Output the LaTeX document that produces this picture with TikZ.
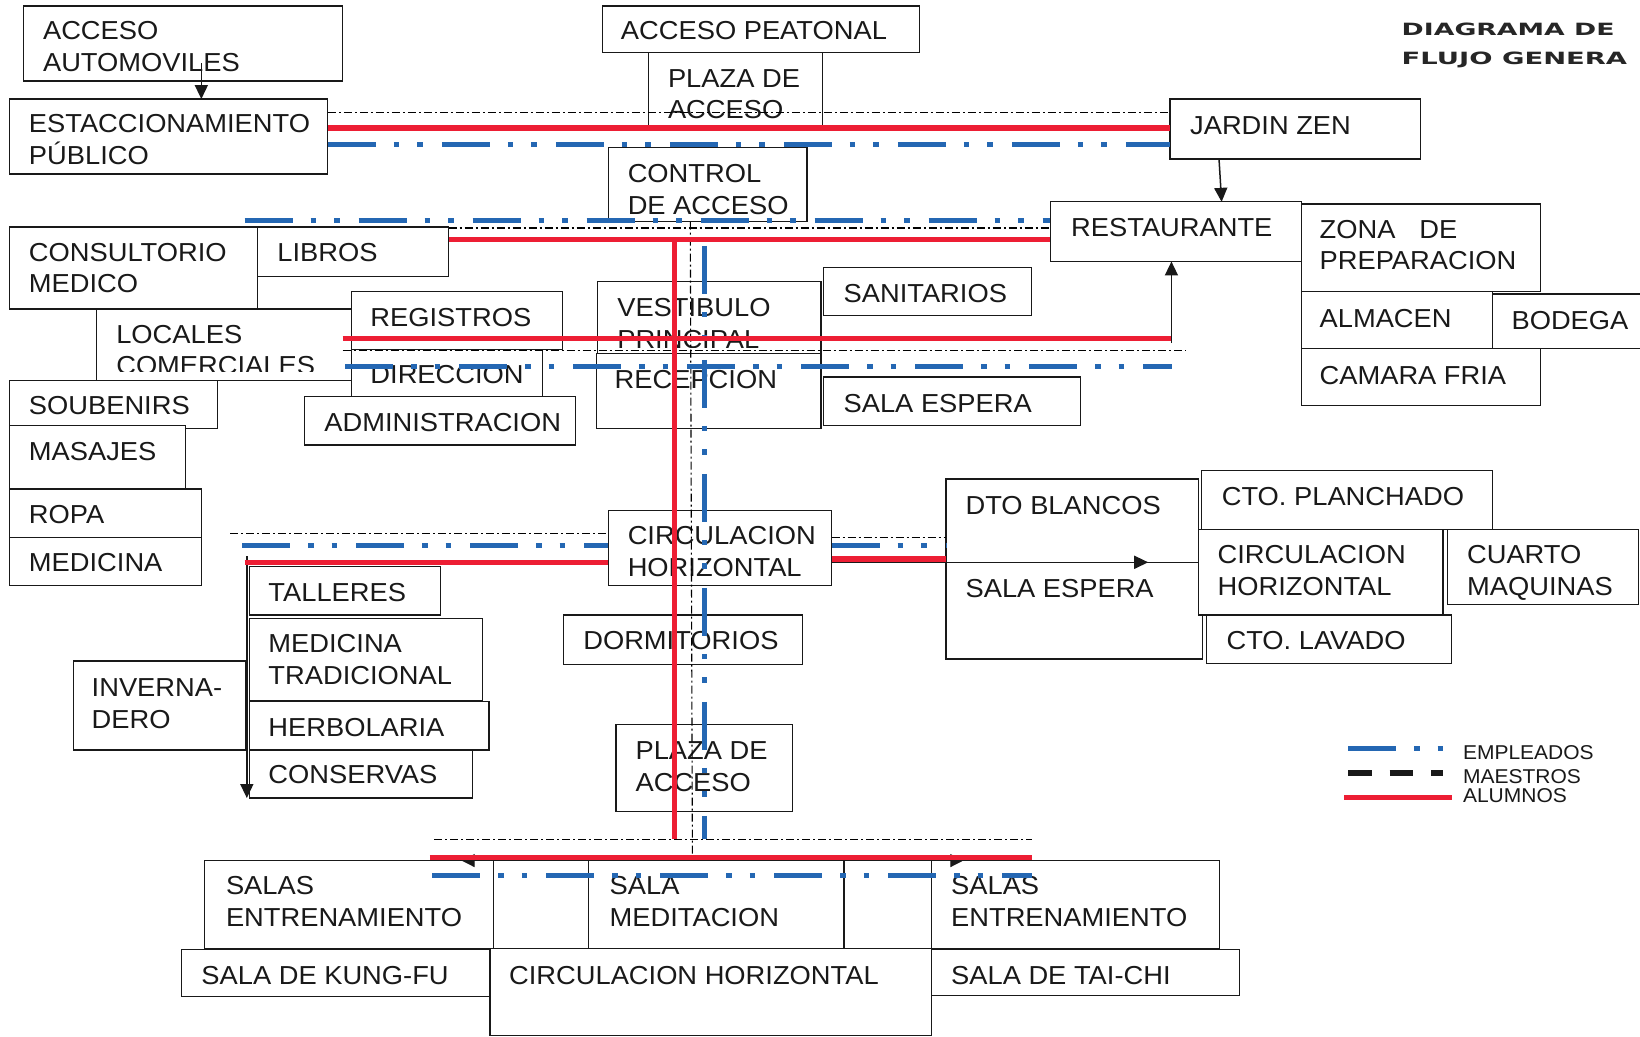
\documentclass[tikz,border=0pt]{standalone}
\usepackage{fontspec}
\setmainfont{Liberation Sans}[FakeStretch=1.05]
\newfontfamily\titlefont{DejaVu Sans}
\usetikzlibrary{arrows.meta}
\definecolor{alred}{RGB}{237,30,52}
\definecolor{emblue}{RGB}{36,103,179}
\newcommand\bx[5]{\node[bxs, minimum width={(#4-#2)*1.046pt}, minimum height={(#5-#3)*1.046pt}] (#1) at (#2,#3) {};}
% single-line text: (name, x, baseline, text)
\newcommand\tx[4]{\node[txs] (t#1) at (#2,#3) {#4};}
% two-line text: (name, x, first baseline, text); node base is at the last line
\newcommand\txx[4]{\node[txs] (t#1) at (#2,{#3+30.11}) {#4};}
\begin{document}
\begin{tikzpicture}[x=1.046pt,y=-1.046pt,
  bxs/.style={draw=black!90, line width=1.2pt, fill=white, anchor=north west, inner sep=0pt, outer sep=0pt},
  txs/.style={anchor=base west, align=left, inner sep=0pt, font=\fontsize{26pt}{31.5pt}\selectfont, text=black!90},
  lgt/.style={anchor=base west, inner sep=0pt, font=\fontsize{20pt}{24pt}\selectfont, text=black!90},
  ttl/.style={anchor=base west, inner sep=0pt, font=\titlefont\bfseries\fontsize{16.9pt}{20pt}\selectfont, text=black!85},
  alum/.style={draw=alred, line width=5.5pt},
  empl/.style={draw=emblue, line width=5pt, dash pattern=on 48pt off 18pt on 5.5pt off 18pt on 5.5pt off 19pt},
  maes/.style={draw=black, line width=1.1pt, dash pattern=on 8pt off 3pt on 2pt off 3pt},
  maesleg/.style={draw=black!90, line width=5.5pt, dash pattern=on 23.5pt off 18pt},
  blk/.style={draw=black!90, line width=1.5pt},
  arr/.style={blk, -{Triangle[length=14pt,width=13pt]}},
  arrt/.style={draw=black!90, line width=1.2pt, -{Triangle[length=13pt,width=13pt]}}]
\useasboundingbox (0,0) rectangle (1568,991);
\clip (0,0) rectangle (1568,991);
\fill[white] (0,0) rectangle (1568,991);
% ---------- boxes ----------
\bx{acau}{22.5}{5.7}{327.5}{77.5}
\bx{acpe}{576}{5.7}{879}{50.4}
\bx{plz1}{620}{50.4}{786.5}{122}
\bx{estac}{9}{94.7}{313.5}{166.4}
\bx{jard}{1118.6}{94.7}{1358.5}{152}
\bx{ctrl}{581.5}{141}{771.5}{212}
\bx{rest}{1004}{193}{1244}{250}
\bx{zona}{1244}{195}{1473}{279}
\bx{cons}{9}{217}{246}{295.5}
\bx{libr}{246}{217}{429}{264}
\bx{loca}{92}{295.5}{336}{364}
\bx{regi}{336}{279}{538}{334}
\bx{dire}{336}{334}{518.5}{379}
\bx{admi}{291.5}{379}{550.5}{425.5}
\bx{almc}{1244}{279}{1427}{333}
\bx{bode}{1427}{281}{1580}{333}
\bx{cama}{1244}{333}{1473}{388}
\bx{sani}{787.5}{256}{986}{302}
\bx{vest}{571}{269.5}{785}{338}
\bx{sesp}{787.5}{360.5}{1033}{407}
\bx{soub}{9}{364}{208}{410}
\bx{masa}{9}{407}{177}{467.5}
\bx{ropa}{9}{467.5}{192.5}{514}
\bx{medi}{9}{514}{192.5}{560}
\bx{circ}{581.5}{488}{795}{560}
\bx{tall}{238.5}{541.7}{421.5}{588}
\bx{medt}{238.5}{591}{461.5}{670}
\bx{inve}{70}{632}{235}{717}
\bx{herb}{238.5}{671}{467.5}{717}
\bx{cnsv}{238.5}{717}{451.5}{763}
\bx{dorm}{538.5}{588}{767.5}{635}
\bx{plz2}{589}{693}{757.5}{776}
\bx{dtob}{904.4}{458}{1145.5}{537.6}
\bx{sesm}{904.4}{537.6}{1149.5}{630}
\bx{plan}{1149}{450}{1427}{506}
\bx{circr}{1145.5}{506}{1379.6}{588}
\bx{cuar}{1384}{506}{1566.5}{578}
\bx{lava}{1153.5}{588}{1388}{634}
\bx{frame}{471.5}{822.8}{890.8}{906.6}
\bx{salL}{195.7}{822.8}{471.5}{906.6}
\bx{salM}{563}{822.8}{807}{909}
\bx{salR}{890.8}{822.8}{1166}{906.6}
\bx{kung}{173.6}{907.6}{468.5}{953}
\bx{circb}{468.5}{906.6}{890.8}{990}
\bx{taic}{890.8}{907.6}{1185}{952}
% ---------- texts ----------
\txx{acau}{41}{38.2}{ACCESO\\AUTOMOVILES}
\tx{acpe}{593.5}{38.2}{ACCESO PEATONAL}
\txx{plz1}{638.5}{83.5}{PLAZA DE\\ACCESO}
\txx{estac}{27.5}{126.9}{ESTACCIONAMIENTO\\PÚBLICO}
\tx{jard}{1137.7}{128.4}{JARDIN ZEN}
\txx{ctrl}{600}{174.6}{CONTROL\\DE ACCESO}
\tx{rest}{1024}{226.3}{RESTAURANTE}
\txx{zona}{1261.5}{227.8}{ZONA\hspace*{24pt}DE\\PREPARACION}
\txx{cons}{27.5}{250}{CONSULTORIO\\MEDICO}
\tx{libr}{265}{250}{LIBROS}
\tx{regi}{354}{311.7}{REGISTROS}
\begin{scope}
\clip (92,295.5) rectangle (336,355);
\txx{loca}{111}{328.2}{LOCALES\\COMERCIALES}
\end{scope}
\tx{dire}{354}{367}{DIRECCION}
\tx{soub}{27.5}{396.7}{SOUBENIRS}
\tx{admi}{310}{412.7}{ADMINISTRACION}
\tx{masa}{27.5}{440.4}{MASAJES}
\begin{scope}
\clip (571,269.5) rectangle (785,332);
\txx{vest}{590}{302.7}{VESTIBULO\\PRINCIPAL}
\end{scope}
\bx{rece}{570}{338}{785}{410}
\tx{rece}{587.5}{371.2}{RECEPCION}
\tx{sani}{806.4}{289.4}{SANITARIOS}
\tx{almc}{1261.5}{313}{ALMACEN}
\tx{bode}{1445}{314.8}{BODEGA}
\tx{cama}{1261.5}{368}{CAMARA FRIA}
\tx{sesp}{806.4}{394.5}{SALA ESPERA}
\tx{ropa}{27.5}{500.3}{ROPA}
\tx{medi}{27.5}{546.5}{MEDICINA}
\txx{circ}{600}{521}{CIRCULACION\\HORIZONTAL}
\tx{tall}{256.5}{575.2}{TALLERES}
\txx{medt}{256.5}{624}{MEDICINA\\TRADICIONAL}
\tx{herb}{256.5}{704.3}{HERBOLARIA}
\tx{cnsv}{256.5}{749.5}{CONSERVAS}
\txx{inve}{87.5}{666}{INVERNA-\\DERO}
\tx{dorm}{557.5}{621.4}{DORMITORIOS}
\txx{plz2}{607.5}{726.6}{PLAZA DE\\ACCESO}
\tx{dtob}{923}{491.7}{DTO BLANCOS}
\tx{sesm}{923}{571.4}{SALA ESPERA}
\tx{plan}{1168}{483.4}{CTO. PLANCHADO}
\txx{circr}{1164}{539.2}{CIRCULACION\\HORIZONTAL}
\txx{cuar}{1402.5}{539.2}{CUARTO\\MAQUINAS}
\tx{lava}{1172.5}{621.4}{CTO. LAVADO}
\txx{salL}{215.9}{855.6}{SALAS\\ENTRENAMIENTO}
\txx{salM}{582.7}{855.6}{SALA\\MEDITACION}
\txx{salR}{909.2}{855.6}{SALAS\\ENTRENAMIENTO}
\tx{kung}{192.4}{941.7}{SALA DE KUNG-FU}
\tx{circb}{486.6}{941.7}{CIRCULACION HORIZONTAL}
\tx{taic}{909.2}{941.7}{SALA DE TAI-CHI}
% ---------- title ----------
\node[ttl] (ttl1) at (1340,34.1) {\scalebox{1.58}[1]{DIAGRAMA DE}};
\node[ttl] (ttl2) at (1340,61.2) {\scalebox{1.62}[1]{FLUJO GENERA}};
% ---------- coordinates ----------
\coordinate (a1) at (192.5,60.5);
\coordinate (j1) at (1165.5,152);
\coordinate (r1) at (1168,193);
\coordinate (u1) at (1120,328);
\coordinate (d1) at (236,532);
\coordinate (d2) at (236,763);
\coordinate (m1) at (795,537.6);
\coordinate (am) at (1097.8,537.6);
\coordinate (bc) at (663,822.8);
\coordinate (bl) at (441.4,822.8);
\coordinate (br) at (921,822.8);
% ---------- black (maestros) ----------
\draw[maes] (313.5,107.7) -- (1118.6,107.7);
\draw[maes] (429,218) -- (1004,218);
\draw[maes] (660,212) -- (662,817.5);
\draw[maes] (327.5,335) -- (1134,335);
\draw[maes] (220,510) -- (581.5,510);
\draw[maes] (795,513.7) -- (904.4,513.7);
\draw[maes] (415,803) -- (986.6,803);
% ---------- black arrows ----------
\draw[arr] (a1) -- (a1 |- estac.north);
\draw[arr] (j1) -- (r1);
\draw[arr] (u1) -- (u1 |- rest.south);
\draw[arr] (d1) -- (d2);
\draw[arr] (m1) -- (am);
\draw[blk] (am) -- (am -| circr.west);
\draw[arrt] (bc) -- (bl);
\draw[arrt] (bc) -- (br);
% ---------- blue (empleados) ----------
\draw[empl] (313.5,138.6) -- (1118.6,138.6);
\draw[empl] (234,211) -- (1004,211);
\draw[empl] (673.5,235) -- (673.5,802);
\draw[empl] (330,350) -- (1121,350);
\draw[empl] (231.5,522) -- (581.5,522);
\draw[empl] (795,522) -- (904.4,522);
\draw[empl] (413.5,837) -- (986.6,837);
% ---------- red (alumnos) ----------
\draw[alum] (313.5,122.4) -- (1118.6,122.4);
\draw[alum] (429,228.8) -- (1004,228.8);
\draw[alum] (645,228.8) -- (645,802);
\draw[alum] (327.5,323.4) -- (1120,323.4);
\draw[alum] (234,538) -- (581.5,538);
\draw[alum] (795,534.4) -- (904.4,534.4);
\draw[alum] (411,820) -- (986.3,820);
% ---------- legend ----------
\draw[empl] (1289,716) -- (1380,716);
\draw[maesleg] (1289,739) -- (1380,739);
\draw[alum] (1285,762.6) -- (1388,762.6);
\node[lgt] (lg1) at (1398.6,726) {EMPLEADOS};
\node[lgt] (lg2) at (1398.6,748.9) {MAESTROS};
\node[lgt] (lg3) at (1398.6,767.4) {ALUMNOS};
\end{tikzpicture}
\end{document}
